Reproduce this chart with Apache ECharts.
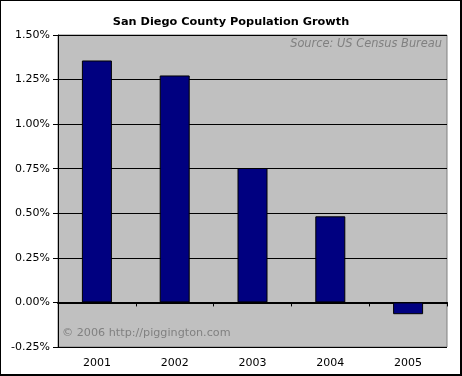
<!DOCTYPE html>
<html>
<head>
<meta charset="utf-8">
<script src="https://cdn.jsdelivr.net/npm/echarts@6/dist/echarts.min.js"></script>
<style>
  html, body { margin: 0; padding: 0; background: #fff; }
  #chart { position: absolute; left: 0; top: 0; width: 462px; height: 376px; }
  #frame {
    position: absolute; left: 0; top: 0; width: 462px; height: 376px;
    box-sizing: border-box; pointer-events: none;
    border-left: 1px solid #000; border-top: 1px solid #000;
    border-right: 2px solid #000; border-bottom: 2px solid #000;
  }
</style>
</head>
<body>
<div id="chart"></div>
<div id="frame"></div>
<script>
// population growth per year, in percent
var years = ['2001', '2002', '2003', '2004', '2005']
var growth = [1.357, 1.273, 0.754, 0.483, -0.066]

var font = 'DejaVu Sans'

var myChart = echarts.init(document.getElementById('chart'))

var option = {
  animation: false,
  title: {
    text: 'San Diego County Population Growth',
    left: 'center',
    top: 12,
    textStyle: {
      fontFamily: font,
      fontSize: 11.3,
      fontWeight: 'bold',
      color: '#000'
    }
  },
  grid: {
    left: 58,
    top: 35,
    right: 15,
    bottom: 29,
    show: true,
    backgroundColor: '#C0C0C0',
    borderColor: '#808080',
    borderWidth: 1
  },
  xAxis: [
    {
      // line at zero with ticks
      type: 'category',
      data: years,
      position: 'bottom',
      axisLine: { onZero: true, lineStyle: { color: '#000', width: 2 } },
      axisTick: { show: true, length: 4, lineStyle: { color: '#000' } },
      axisLabel: { show: false },
      splitLine: { show: false }
    },
    {
      // labels at the bottom of the plot
      type: 'category',
      data: years,
      position: 'bottom',
      axisLine: { show: false, onZero: false },
      axisTick: { show: false },
      axisLabel: {
        margin: 11,
        fontFamily: font,
        fontSize: 11,
        color: '#000'
      },
      splitLine: { show: false }
    }
  ],
  yAxis: {
    type: 'value',
    min: -0.25,
    max: 1.5,
    interval: 0.25,
    axisLine: { show: true, lineStyle: { color: '#000' } },
    axisTick: { show: true, length: 5, lineStyle: { color: '#000' } },
    axisLabel: {
      margin: 8,
      fontFamily: font,
      fontSize: 11,
      color: '#000',
      formatter: function (v) {
        return v.toFixed(2) + '%'
      }
    },
    splitLine: { show: true, lineStyle: { color: '#000', width: 1 } }
  },
  graphic: [
    {
      type: 'text',
      right: 20,
      top: 39,
      style: {
        text: 'Source: US Census Bureau',
        fontFamily: font,
        fontSize: 11.4,
        fontStyle: 'italic',
        fill: '#808080'
      }
    },
    {
      type: 'text',
      left: 62,
      top: 328,
      style: {
        text: '\u00a9 2006 http://piggington.com',
        fontFamily: font,
        fontSize: 11.2,
        fill: '#808080'
      }
    }
  ],
  series: [
    {
      type: 'bar',
      xAxisIndex: 0,
      data: growth,
      barWidth: 30,
      itemStyle: {
        color: '#000080',
        borderColor: '#000',
        borderWidth: 1
      }
    }
  ]
}

myChart.setOption(option)
</script>
</body>
</html>
